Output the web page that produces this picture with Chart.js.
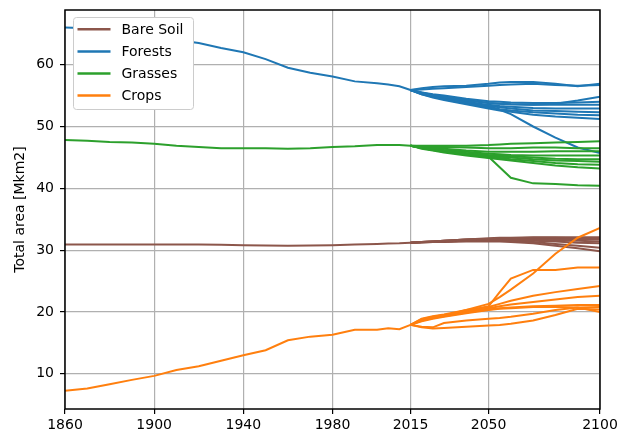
<!DOCTYPE html>
<html>
<head>
<meta charset="utf-8">
<script src="https://cdn.jsdelivr.net/npm/chart.js@4.4.0/dist/chart.umd.min.js"></script>
<style>
body { margin: 0; background: #fff; }
#wrap { width: 620px; height: 435px; }
</style>
</head>
<body>
<div id="wrap"><canvas id="grafica" width="620" height="435"></canvas></div>
<script>
var histYears = [1860, 1870, 1880, 1890, 1900, 1910, 1920, 1930, 1940, 1950, 1960, 1970, 1980, 1990, 2000, 2005, 2010, 2015];
var scenYears = [2015, 2020, 2025, 2030, 2040, 2050, 2055, 2060, 2070, 2080, 2090, 2100];
var xTicks = [1860, 1900, 1940, 1980, 2015, 2050, 2100];
var yTicks = [10, 20, 30, 40, 50, 60];

var categorias = ["Bare Soil", "Forests", "Grasses", "Crops"];
var colores = ["#8c564b", "#1f77b4", "#2ca02c", "#ff7f0e"];

var bareHist = [30.9, 30.9, 30.9, 30.9, 30.9, 30.9, 30.9, 30.85, 30.8, 30.75, 30.7, 30.75, 30.8, 30.9, 31.0, 31.05, 31.1, 31.2];
var bareScen = [
	[31.2, 31.3, 31.4, 31.5, 31.7, 31.9, 32.0, 32.0, 32.1, 32.1, 32.1, 32.1],
	[31.2, 31.3, 31.4, 31.5, 31.7, 31.8, 31.9, 31.9, 32.0, 32.0, 31.9, 31.9],
	[31.2, 31.3, 31.4, 31.5, 31.7, 31.8, 31.8, 31.9, 31.9, 31.8, 31.8, 31.7],
	[31.2, 31.3, 31.4, 31.4, 31.6, 31.7, 31.7, 31.7, 31.7, 31.6, 31.5, 31.4],
	[31.2, 31.3, 31.3, 31.4, 31.5, 31.6, 31.6, 31.6, 31.5, 31.4, 31.2, 31.1],
	[31.2, 31.3, 31.3, 31.4, 31.5, 31.5, 31.5, 31.5, 31.3, 31.0, 30.7, 30.4],
	[31.2, 31.2, 31.3, 31.3, 31.4, 31.4, 31.4, 31.3, 31.1, 30.7, 30.3, 29.8]
];

var forestHist = [66.0, 65.9, 65.6, 65.1, 64.6, 64.0, 63.5, 62.7, 62.0, 60.9, 59.5, 58.7, 58.1, 57.3, 57.0, 56.8, 56.5, 55.9];
var forestScen = [
	[55.9, 56.2, 56.4, 56.5, 56.6, 56.9, 57.1, 57.2, 57.2, 56.9, 56.5, 56.9],
	[55.9, 56.0, 56.1, 56.2, 56.4, 56.6, 56.7, 56.8, 56.9, 56.7, 56.6, 56.7],
	[55.9, 55.4, 55.1, 54.8, 54.2, 53.8, 53.7, 53.6, 53.5, 53.7, 54.2, 54.8],
	[55.9, 55.5, 55.2, 55.0, 54.5, 54.1, 54.0, 53.9, 53.8, 53.8, 53.9, 54.0],
	[55.9, 55.4, 55.1, 54.8, 54.3, 53.8, 53.7, 53.6, 53.5, 53.5, 53.5, 53.5],
	[55.9, 55.3, 55.0, 54.6, 54.0, 53.5, 53.3, 53.2, 53.0, 52.9, 52.9, 52.9],
	[55.9, 55.3, 54.9, 54.5, 53.9, 53.3, 53.1, 52.9, 52.6, 52.5, 52.4, 52.3],
	[55.9, 55.2, 54.8, 54.4, 53.7, 53.1, 52.8, 52.6, 52.3, 52.1, 51.9, 51.8],
	[55.9, 55.2, 54.7, 54.3, 53.6, 52.9, 52.6, 52.4, 51.9, 51.6, 51.4, 51.2],
	[55.9, 55.5, 55.1, 54.7, 54.0, 53.3, 52.7, 52.0, 50.0, 48.2, 46.6, 45.7]
];

var grassHist = [47.8, 47.7, 47.5, 47.4, 47.2, 46.9, 46.7, 46.5, 46.5, 46.5, 46.4, 46.5, 46.7, 46.8, 47.0, 47.0, 47.0, 46.9];
var grassScen = [
	[46.9, 46.9, 46.9, 46.9, 46.9, 47.0, 47.1, 47.2, 47.3, 47.4, 47.5, 47.6],
	[46.9, 46.8, 46.7, 46.7, 46.6, 46.5, 46.5, 46.5, 46.6, 46.6, 46.5, 46.5],
	[46.9, 46.7, 46.5, 46.4, 46.1, 45.9, 45.9, 45.9, 45.9, 46.0, 46.0, 46.0],
	[46.9, 46.6, 46.4, 46.2, 45.9, 45.6, 45.5, 45.4, 45.3, 45.3, 45.3, 45.3],
	[46.9, 46.6, 46.3, 46.1, 45.7, 45.4, 45.3, 45.2, 45.0, 44.8, 44.7, 44.7],
	[46.9, 46.5, 46.2, 46.0, 45.6, 45.2, 45.1, 45.0, 44.7, 44.5, 44.4, 44.3],
	[46.9, 46.5, 46.2, 45.9, 45.5, 45.0, 44.9, 44.7, 44.4, 44.1, 43.9, 43.8],
	[46.9, 46.4, 46.1, 45.8, 45.3, 44.9, 44.7, 44.5, 44.1, 43.7, 43.4, 43.2],
	[46.9, 46.6, 46.3, 46.0, 45.6, 45.1, 43.4, 41.7, 40.8, 40.7, 40.5, 40.4]
];

var cropHist = [7.25, 7.6, 8.3, 9.0, 9.65, 10.6, 11.2, 12.1, 13.0, 13.8, 15.4, 16.0, 16.3, 17.1, 17.1, 17.35, 17.2, 17.9];
var cropScen = [
	[17.9, 18.6, 19.0, 19.4, 20.3, 21.3, 22.4, 23.6, 26.2, 29.4, 32.0, 33.6],
	[17.9, 18.8, 19.2, 19.5, 20.1, 20.9, 23.2, 25.4, 26.8, 26.8, 27.2, 27.2],
	[17.9, 18.9, 19.3, 19.6, 20.3, 20.8, 21.3, 21.8, 22.6, 23.2, 23.7, 24.2],
	[17.9, 18.7, 19.1, 19.4, 20.0, 20.6, 20.9, 21.2, 21.6, 22.0, 22.4, 22.6],
	[17.9, 18.6, 19.0, 19.3, 19.9, 20.4, 20.6, 20.7, 20.9, 21.0, 21.1, 21.1],
	[17.9, 18.5, 18.9, 19.2, 19.8, 20.3, 20.5, 20.6, 20.8, 20.8, 20.7, 20.0],
	[17.9, 17.6, 17.5, 18.2, 18.6, 18.9, 19.0, 19.2, 19.7, 20.3, 20.7, 20.8],
	[17.9, 17.5, 17.3, 17.4, 17.6, 17.8, 17.9, 18.1, 18.6, 19.5, 20.5, 20.4]
];

function puntos(years, vals) {
	return vals.map(function(v, i) { return {x: years[i], y: v}; });
}

var datasets = [];
function agregar(idx, hist, scen) {
	// lower order is drawn on top, so crops end up above the rest
	var estilo = {borderColor: colores[idx], borderWidth: 2, pointRadius: 0, fill: false, tension: 0, order: 4 - idx};
	datasets.push(Object.assign({label: categorias[idx], data: puntos(histYears, hist)}, estilo));
	scen.forEach(function(s) {
		datasets.push(Object.assign({label: categorias[idx], data: puntos(scenYears, s)}, estilo));
	});
}
agregar(0, bareHist, bareScen);
agregar(1, forestHist, forestScen);
agregar(2, grassHist, grassScen);
agregar(3, cropHist, cropScen);

var marco = {
	id: 'marco',
	afterDatasetsDraw: function(chart) {
		var a = chart.chartArea, ctx = chart.ctx;
		ctx.save();
		ctx.strokeStyle = '#000';
		ctx.lineWidth = 1.5;
		ctx.strokeRect(a.left, a.top, a.right - a.left, a.bottom - a.top);
		ctx.restore();
	}
};

var leyenda = {
	id: 'leyenda',
	afterDraw: function(chart) {
		var a = chart.chartArea, ctx = chart.ctx;
		var x0 = a.left + 8.5, y0 = a.top + 7.5, w = 120, h = 92, r = 3;
		ctx.save();
		ctx.beginPath();
		ctx.moveTo(x0 + r, y0);
		ctx.arcTo(x0 + w, y0, x0 + w, y0 + h, r);
		ctx.arcTo(x0 + w, y0 + h, x0, y0 + h, r);
		ctx.arcTo(x0, y0 + h, x0, y0, r);
		ctx.arcTo(x0, y0, x0 + w, y0, r);
		ctx.closePath();
		ctx.fillStyle = '#fff';
		ctx.fill();
		ctx.strokeStyle = '#cccccc';
		ctx.lineWidth = 1;
		ctx.stroke();
		ctx.font = "14px 'DejaVu Sans'";
		ctx.textBaseline = 'middle';
		ctx.fillStyle = '#000';
		categorias.forEach(function(c, i) {
			var y = y0 + 11.8 + i * 22.1;
			ctx.beginPath();
			ctx.moveTo(x0 + 4, y);
			ctx.lineTo(x0 + 37, y);
			ctx.strokeStyle = colores[i];
			ctx.lineWidth = 2.5;
			ctx.stroke();
			ctx.fillText(c, x0 + 48, y + 1);
		});
		ctx.restore();
	}
};

Chart.defaults.font.family = "'DejaVu Sans'";
Chart.defaults.font.size = 14;
Chart.defaults.color = '#000';

var ctx = document.getElementById('grafica');
var grafica = new Chart(ctx, {
	type: 'line',
	data: {datasets: datasets},
	plugins: [marco, leyenda],
	options: {
		responsive: false,
		animation: false,
		layout: {padding: {top: 10, right: 20, left: 0, bottom: 0}},
		plugins: {legend: {display: false}, tooltip: {enabled: false}},
		scales: {
			x: {
				type: 'linear',
				min: 1860,
				max: 2100,
				afterBuildTicks: function(s) { s.ticks = xTicks.map(function(v) { return {value: v}; }); },
				afterFit: function(s) { s.height = 26; s.paddingLeft = 0; s.paddingRight = 0; },
				ticks: {autoSkip: false, maxRotation: 0, padding: 3, callback: function(v) { return String(v); }},
				grid: {color: '#b0b0b0', lineWidth: 1.2, tickColor: '#000', tickLength: 5, tickWidth: 1.2},
				border: {display: false}
			},
			y: {
				min: 4.29,
				max: 68.85,
				afterBuildTicks: function(s) { s.ticks = yTicks.map(function(v) { return {value: v}; }); },
				afterFit: function(s) { s.width = 65; s.paddingTop = 0; s.paddingBottom = 0; },
				ticks: {padding: 6},
				grid: {color: '#b0b0b0', lineWidth: 1.2, tickColor: '#000', tickLength: 5, tickWidth: 1.2},
				border: {display: false},
				title: {display: true, text: 'Total area [Mkm2]', padding: {top: 12, bottom: 0}, font: {size: 14}}
			}
		}
	}
});
</script>
</body>
</html>
